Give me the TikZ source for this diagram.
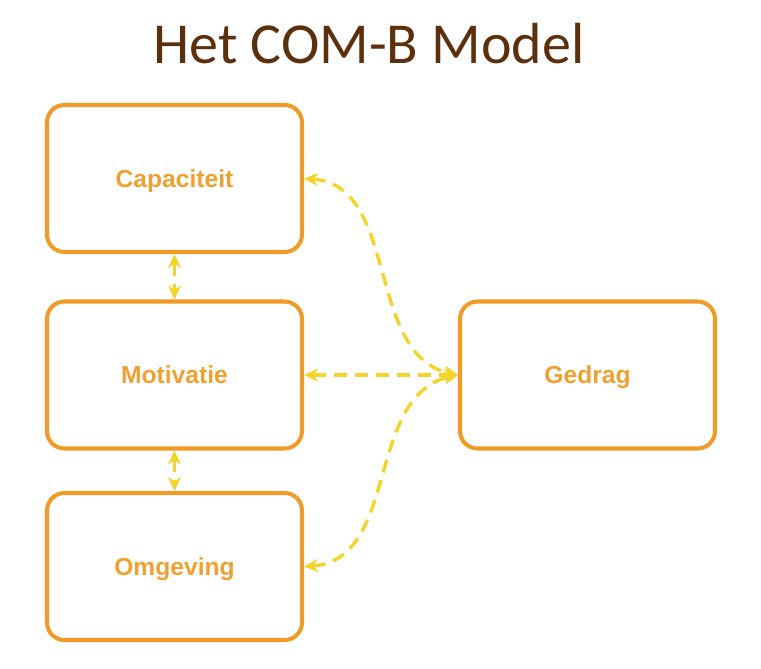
\documentclass[tikz,border=0pt]{standalone}
\usepackage{fontspec}
\setmainfont{Liberation Sans}
\newfontfamily\titlefont{Carlito}
\usepackage{xcolor}
\usetikzlibrary{arrows.meta}

\definecolor{boxorange}{HTML}{F09A28}
\definecolor{textorange}{HTML}{F0A030}
\definecolor{linkyellow}{HTML}{F5D42A}
\definecolor{titlebrown}{HTML}{5C300C}

\begin{document}
\begin{tikzpicture}[every node/.style={draw=boxorange, line width=2.3pt, rounded corners=0.35cm,
        minimum width=5.1cm, minimum height=2.94cm, text=textorange, text depth=0pt,
        font=\fontsize{14}{16}\selectfont\bfseries},
        link/.style={draw=linkyellow, line width=1.9pt, dash pattern=on 0.26cm off 0.16cm,
        {Stealth[length=2.8mm, width=2.6mm]}-{Stealth[length=2.8mm, width=2.6mm]}}]
        \useasboundingbox (0,0) rectangle (15.22,-13.36);

        \node[draw=none, minimum size=0pt, text=titlebrown, anchor=base,
            font=\titlefont\fontsize{33}{36}\selectfont] (T) at (7.38,-1.26) {Het COM-B Model};

        \node (C) at (3.49,-3.57) {Capaciteit};
        \node (M) at (3.49,-7.5) {Motivatie};
        \node (O) at (3.49,-11.33) {Omgeving};
        \node (G) at (11.75,-7.5) {Gedrag};


        \draw[link] (C) -- (M);
        \draw[link] (M) -- (O);
        \draw[link] (M) -- (G);
        \draw[link] (C.east) .. controls (8.0,-3.7) and (7.3,-7.1) .. (G.west);
        \draw[link] (O.east) .. controls (8.0,-11.2) and (7.3,-7.9) .. (G.west);
    \end{tikzpicture}
\end{document}
